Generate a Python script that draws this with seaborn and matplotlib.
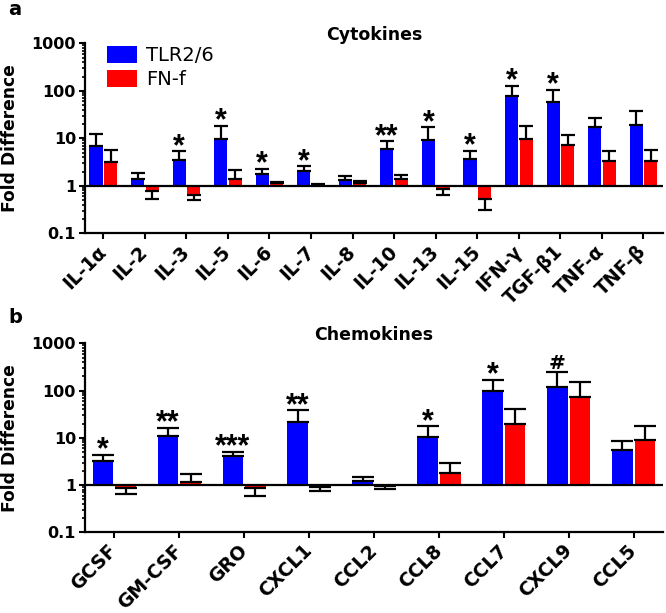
import numpy as np
import pandas as pd
import matplotlib
matplotlib.use("Agg")
import matplotlib.pyplot as plt
import seaborn as sns

# ---------------- data ----------------
groups = ["TLR2/6", "FN-f"]

cytokines = ["IL-1α", "IL-2", "IL-3", "IL-5", "IL-6", "IL-7", "IL-8", "IL-10",
             "IL-13", "IL-15", "IFN-γ", "TGF-β1", "TNF-α", "TNF-β"]
cyto_tlr = [6.9, 1.38, 3.45, 9.6, 1.75, 2.07, 1.32, 6.0, 9.0, 3.6, 78, 58, 17, 19.5]
cyto_tlr_err = [12.4, 1.85, 5.3, 18.3, 2.25, 2.55, 1.6, 8.6, 16.9, 5.5, 127, 103, 27, 38]
cyto_fnf = [3.15, 0.79, 0.64, 1.40, 1.14, 1.05, 1.12, 1.40, 0.86, 0.52, 9.8, 7.2, 3.35, 3.25]
cyto_fnf_err = [5.7, 0.53, 0.50, 2.1, 1.19, 1.08, 1.25, 1.65, 0.64, 0.31, 18.3, 12.0, 5.4, 5.8]
cyto_sig = ["", "", "*", "*", "*", "*", "", "**", "*", "*", "*", "*", "", ""]

chemokines = ["GCSF", "GM-CSF", "GRO", "CXCL1", "CCL2", "CCL8", "CCL7", "CXCL9", "CCL5"]
chemo_tlr = [3.3, 11.1, 4.1, 21.9, 1.23, 10.3, 100, 117, 5.4]
chemo_tlr_err = [4.4, 16.1, 5.1, 37.9, 1.5, 17.5, 171, 243, 8.4]
chemo_fnf = [0.85, 1.17, 0.85, 0.92, 0.97, 1.79, 19.6, 72.5, 9.15]
chemo_fnf_err = [0.65, 1.7, 0.6, 0.74, 0.82, 2.86, 40, 150, 17.5]
chemo_sig = ["*", "**", "***", "**", "", "*", "*", "#", ""]

ytick_vals = [0.1, 1, 10, 100, 1000]
ytick_labels = ["0.1", "1", "10", "100", "1000"]

palette = {"TLR2/6": "#0000FF", "FN-f": "#FF0000"}

# ---------------- style ----------------
sns.set_style("ticks")
plt.rcParams["font.family"] = ["DejaVu Sans"]
plt.rcParams["text.color"] = "black"
plt.rcParams["axes.labelcolor"] = "black"
plt.rcParams["xtick.color"] = "black"
plt.rcParams["ytick.color"] = "black"

W, H = 666, 613
fig = plt.figure(figsize=(W / 100, H / 100), dpi=100)


def fx(px):
    return px / W


def fy(py):
    return 1 - py / H


def panel(ax, cats, tlr, tlr_err, fnf, fnf_err, sig, xlim, capsize, title,
          title_y, letter, letter_y, legend=False):
    df = pd.DataFrame({
        "cat": cats * 2,
        "group": [groups[0]] * len(cats) + [groups[1]] * len(cats),
        "val": list(tlr) + list(fnf),
        "err": list(tlr_err) + list(fnf_err),
    })
    df["logval"] = np.log10(df["val"])
    sns.barplot(data=df, x="cat", y="logval", hue="group", order=cats,
                hue_order=groups, palette=palette, width=0.7, gap=0.1,
                errorbar=None, linewidth=0, saturation=1, ax=ax, legend=legend)

    bar_conts = list(ax.containers)[:2]
    for gi, cont in enumerate(bar_conts):
        sub = df[df["group"] == groups[gi]].reset_index(drop=True)
        for bi, bar in enumerate(cont):
            xc = bar.get_x() + bar.get_width() / 2
            lv = np.log10(sub.loc[bi, "val"])
            le = np.log10(sub.loc[bi, "err"])
            if le >= lv:
                yerr = [[0], [le - lv]]
            else:
                yerr = [[lv - le], [0]]
            ax.errorbar([xc], [lv], yerr=yerr, fmt="none", ecolor="black",
                        elinewidth=1.6, capsize=capsize, capthick=1.6, zorder=3)
            if gi == 0 and sig[bi]:
                s = sig[bi]
                if s == "#":
                    ax.annotate(s, (xc, max(le, lv)), xytext=(0, 2.5),
                                textcoords="offset points", ha="center",
                                va="baseline", fontsize=14.5, fontweight="bold")
                else:
                    ax.annotate(s, (xc, max(le, lv)), xytext=(0, -2.5),
                                textcoords="offset points", ha="center",
                                va="baseline", fontsize=22, fontweight="bold",
                                family="Liberation Sans")

    ax.axhline(0, color="black", lw=1.6, zorder=4)
    ax.set_ylim(-1, 3)
    ax.set_xlim(*xlim)
    ax.set_yticks(np.log10(ytick_vals))
    ax.set_yticklabels(ytick_labels)
    minors = [np.log10(k * 10.0 ** d) for d in range(-1, 3) for k in range(2, 10)]
    ax.set_yticks(minors, minor=True)
    ax.set_xlabel("")
    ax.set_ylabel("Fold Difference", fontsize=12.3, fontweight="bold")
    for lab in ax.get_yticklabels():
        lab.set_fontweight("bold")
        lab.set_fontsize(11.5)
    ax.set_xticks(range(len(cats)))
    ax.set_xticklabels(cats, rotation=45, ha="right", rotation_mode="anchor",
                       fontsize=13.5, fontweight="bold", va="center")
    ax.tick_params(axis="y", which="major", length=4.5, width=1.5, pad=2,
                   direction="out", colors="black")
    ax.tick_params(axis="y", which="minor", length=2.5, width=1.2,
                   direction="out", colors="black")
    ax.tick_params(axis="x", which="major", length=4.5, width=1.5, pad=6.5,
                   direction="out", colors="black")
    for sp in ["top", "right"]:
        ax.spines[sp].set_visible(False)
    for sp in ["left", "bottom"]:
        ax.spines[sp].set_linewidth(1.6)
        ax.spines[sp].set_color("black")
    ax.yaxis.set_label_coords(-(85 - 10) / (663 - 85), 0.5)
    ax.yaxis.label.set_va("center")
    fig.text(fx(374), fy(title_y), title, ha="center", va="center",
             fontsize=12.5, fontweight="bold")
    fig.text(fx(8), fy(letter_y), letter, ha="left", va="baseline",
             fontsize=14, fontweight="bold")


# top panel: axes from x 85..663, y 43..233
ax1 = fig.add_axes([fx(85), fy(233.3), (663 - 85) / W, (233.3 - 43.3) / H])
panel(ax1, cytokines, cyto_tlr, cyto_tlr_err, cyto_fnf, cyto_fnf_err, cyto_sig,
      (-0.44, 13.47), 4.8, "Cytokines", 35, "a", 15, legend=True)
leg = ax1.legend(loc="upper left", bbox_to_anchor=(fx(107), fy(46)),
                 bbox_transform=fig.transFigure, frameon=False, fontsize=14,
                 handlelength=1.55, handleheight=1.0, labelspacing=0.22,
                 handletextpad=0.45, borderpad=0, borderaxespad=0)

# bottom panel: axes from x 85..663, y 343..532
ax2 = fig.add_axes([fx(85), fy(532.3), (663 - 85) / W, (532.3 - 343.3) / H])
panel(ax2, chemokines, chemo_tlr, chemo_tlr_err, chemo_fnf, chemo_fnf_err,
      chemo_sig, (-0.45, 8.45), 7.7, "Chemokines", 335, "b", 323)

fig.savefig("out.png", dpi=100)
